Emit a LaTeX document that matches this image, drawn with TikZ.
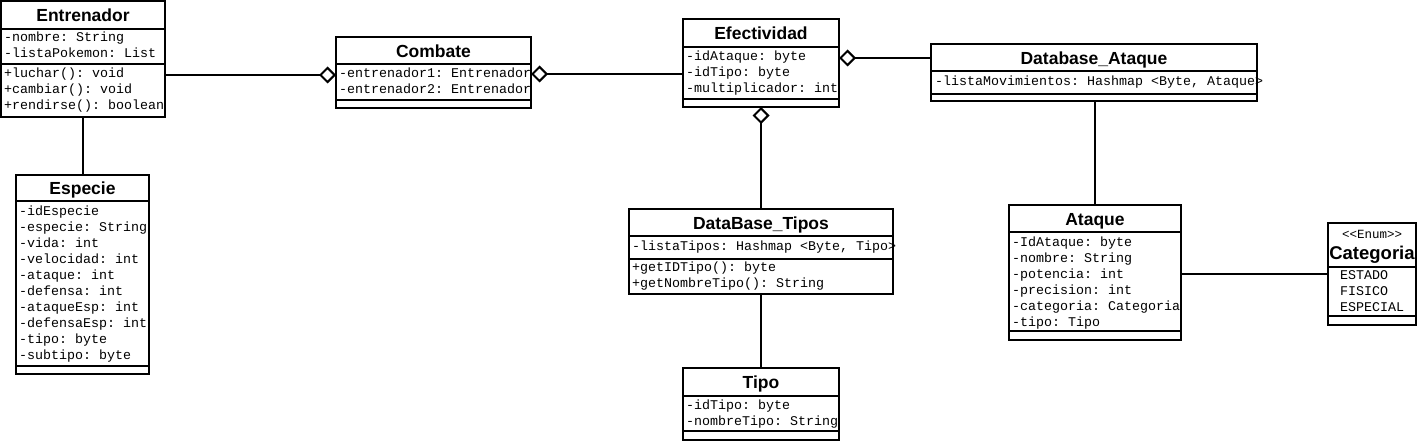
\documentclass[tikz,border=0pt]{standalone}
\usepackage{fontspec}
\setmainfont{Liberation Sans}
\newfontfamily\monof{Liberation Mono}
\usetikzlibrary{arrows.meta}
\tikzset{
  cls/.style={draw, line width=2pt, inner sep=0pt, outer sep=0pt, anchor=north west, fill=white},
  ttl/.style={font=\bfseries\fontsize{17.5}{20}\selectfont, inner sep=0pt, text height=12.5pt, text depth=0pt},
  txt/.style={font=\monof\frenchspacing\fontsize{13.33}{16}\selectfont, inner sep=0pt, anchor=base west},
  sepl/.style={line width=2pt},
  conn/.style={line width=2pt},
  agg/.style={-{Diamond[open,length=17pt,width=17pt]}}
}
\newcommand\hsep[2]{\draw[sepl] ([yshift=-#2]#1.north west) -- ([yshift=-#2]#1.north east);}
\newcommand\umllines[4]{\foreach \t [count=\i] in {#4} {\node[txt] (#1-\i) at (#2,#3+16*\i-16) {\t};}}
\begin{document}
\begin{tikzpicture}[x=1pt,y=-1pt]
\useasboundingbox[fill=white] (0,0) rectangle (1417,441);

% Entrenador
\node[cls, minimum width=164, minimum height=116] (ent) at (1,1) {};
\node[ttl] (ent-t) at ([yshift=-14]ent.north) {Entrenador};
\hsep{ent}{28}\hsep{ent}{63}
\umllines{enta}{4}{42}{-nombre: String, -listaPokemon: List}
\umllines{entm}{4}{78}{+luchar(): void, +cambiar(): void, +rendirse(): boolean}

% Combate
\node[cls, minimum width=195, minimum height=71] (comb) at (336,37) {};
\node[ttl] (comb-t) at ([yshift=-14]comb.north) {Combate};
\hsep{comb}{27}\hsep{comb}{63}
\umllines{comba}{339}{78}{-entrenador1: Entrenador, -entrenador2: Entrenador}

% Efectividad
\node[cls, minimum width=156, minimum height=88] (eff) at (683,19) {};
\node[ttl] (eff-t) at ([yshift=-14]eff.north) {Efectividad};
\hsep{eff}{28}\hsep{eff}{80}
\umllines{effa}{686}{61}{-idAtaque: byte, -idTipo: byte, -multiplicador: int}

% Database_Ataque
\node[cls, minimum width=326, minimum height=57] (dba) at (931,44) {};
\node[ttl] (dba-t) at ([yshift=-14]dba.north) {Database\_Ataque};
\hsep{dba}{27}\hsep{dba}{50}
\umllines{dbaa}{935}{86}{{-listaMovimientos: Hashmap <Byte, Ataque>}}
\draw[sepl] (dba.north east) -- (dba.south east);

% Especie
\node[cls, minimum width=133, minimum height=199] (esp) at (16,175) {};
\node[ttl] (esp-t) at ([yshift=-13.5]esp.north) {Especie};
\hsep{esp}{26}\hsep{esp}{191}
\umllines{espa}{19}{215}{-idEspecie, -especie: String, -vida: int, -velocidad: int, -ataque: int, -defensa: int, -ataqueEsp: int, -defensaEsp: int, -tipo: byte, -subtipo: byte}

% DataBase_Tipos
\node[cls, minimum width=264, minimum height=85] (dbt) at (629,209) {};
\node[ttl] (dbt-t) at ([yshift=-14]dbt.north) {DataBase\_Tipos};
\hsep{dbt}{27}\hsep{dbt}{50}
\umllines{dbta}{632}{250}{{-listaTipos: Hashmap <Byte, Tipo>}}
\draw[sepl] (dbt.north east) -- (dbt.south east);
\umllines{dbtm}{632}{271}{+getIDTipo(): byte, +getNombreTipo(): String}

% Tipo
\node[cls, minimum width=156, minimum height=72] (tipo) at (683,368) {};
\node[ttl] (tipo-t) at ([yshift=-14]tipo.north) {Tipo};
\hsep{tipo}{28}\hsep{tipo}{63}
\umllines{tipoa}{686}{409}{-idTipo: byte, -nombreTipo: String}

% Ataque
\node[cls, minimum width=172, minimum height=135] (ata) at (1009,205) {};
\node[ttl] (ata-t) at ([yshift=-14]ata.north) {Ataque};
\hsep{ata}{27}\hsep{ata}{126}
\umllines{ataa}{1012}{246}{-IdAtaque: byte, -nombre: String, -potencia: int, -precision: int, -categoria: Categoria, -tipo: Tipo}

% Categoria
\node[cls, minimum width=88, minimum height=102] (cat) at (1328,223) {};
\node[txt, anchor=base, font=\monof\fontsize{12.5}{15}\selectfont] (cat-s) at (1372,238) {<{}<Enum>{}>};
\node[ttl, font=\bfseries\fontsize{18.5}{22}\selectfont, text height=13pt] (cat-t) at (1372,253) {Categoria};
\hsep{cat}{44}\hsep{cat}{93}
\umllines{cata}{1340}{279}{ESTADO, FISICO, ESPECIAL}

% connectors
\coordinate (cw) at ([yshift=-2.5]comb.west);
\draw[conn, agg] (cw -| ent.east) -- (cw);
\coordinate (ce) at ([yshift=-1.5]comb.east);
\draw[conn, agg] (ce -| eff.west) -- (ce);
\coordinate (ee) at ([yshift=5]eff.east);
\draw[conn, agg] (ee -| dba.west) -- (ee);
\draw[conn, agg] (dbt.north) -- (eff.south);
\draw[conn] (ent.south -| esp.north) -- (esp.north);
\draw[conn] (dba.south -| ata.north) -- (ata.north);
\draw[conn] (dbt.south) -- (tipo.north);
\coordinate (ae) at ([yshift=-1.5]ata.east);
\draw[conn] (ae) -- (ae -| cat.west);
\end{tikzpicture}
\end{document}
